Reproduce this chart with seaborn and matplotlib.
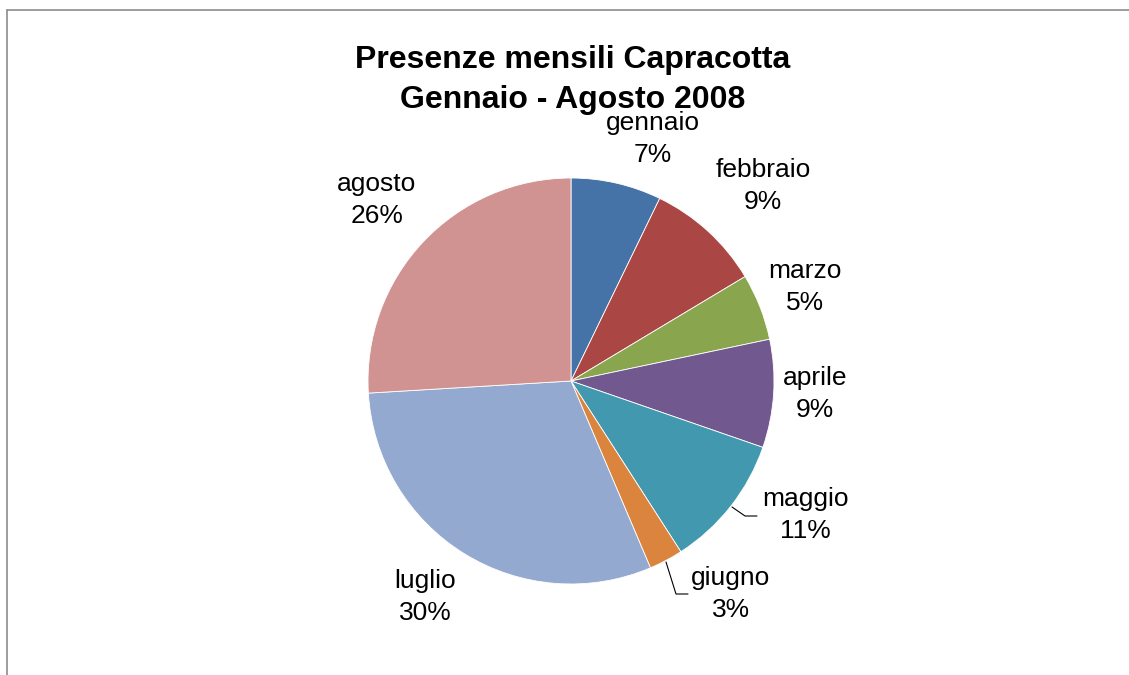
import numpy as np
import seaborn as sns
import matplotlib.pyplot as plt
from matplotlib.lines import Line2D

# dati (quota percentuale per mese)
mesi = ["gennaio", "febbraio", "marzo", "aprile", "maggio", "giugno", "luglio", "agosto"]
quote = [7.2, 9.2, 5.3, 8.6, 10.6, 2.7, 30.45, 25.95]
colori = ["#4572A7", "#AA4643", "#89A54E", "#71588F", "#4198AF", "#DB843D", "#93A9CF", "#D19392"]

# posizioni etichette (pixel figura, centro del blocco di testo)
pos_etichette = [(653, 139), (763, 186), (805, 287), (815, 394),
                 (805, 515), (731, 594), (425, 597), (377, 200)]

sns.set_theme(style="white")
plt.rcParams["font.family"] = ["Liberation Sans", "DejaVu Sans"]
plt.rcParams["text.color"] = "black"

W, H, DPI = 1129, 675, 100
cx, cy, R = 571, 381, 203

fig = plt.figure(figsize=(W / DPI, H / DPI), dpi=DPI)
ax = fig.add_axes([(cx - R) / W, (H - cy - R) / H, 2 * R / W, 2 * R / H])

wedges, _ = ax.pie(quote, colors=sns.color_palette(colori), startangle=90,
                   counterclock=False, radius=1,
                   wedgeprops=dict(edgecolor="white", linewidth=0.6))
ax.set_xlim(-1, 1)
ax.set_ylim(-1, 1)
ax.set_aspect("equal")
ax.axis("off")

# etichette: percentuale arrotondata come in Excel
for nome, q, (px, py) in zip(mesi, quote, pos_etichette):
    pct = int(np.floor(100 * q / sum(quote) + 0.5))
    fig.text(px / W, 1 - py / H, f"{nome}\n{pct}%", color="black",
             ha="center", va="center", fontsize=19, linespacing=1.45)

# linee guida per maggio e giugno
def guida(pts):
    xs = [p[0] / W for p in pts]
    ys = [1 - p[1] / H for p in pts]
    fig.add_artist(Line2D(xs, ys, color="black", linewidth=0.8))

guida([(732, 507), (745, 516), (757, 516)])
guida([(666, 562), (676, 594), (688, 594)])

fig.text(573 / W, 1 - 80 / H, "Presenze mensili Capracotta\nGennaio - Agosto 2008",
         color="black", ha="center", va="center", fontsize=23,
         fontweight="bold", linespacing=1.4)

# cornice grigia
fig.add_artist(Line2D([7 / W, 1], [1 - 10 / H, 1 - 10 / H], color="#8c8c8c", linewidth=1.2))
fig.add_artist(Line2D([7 / W, 7 / W], [0, 1 - 10 / H], color="#8c8c8c", linewidth=1.2))

fig.savefig("out.png", dpi=DPI)
